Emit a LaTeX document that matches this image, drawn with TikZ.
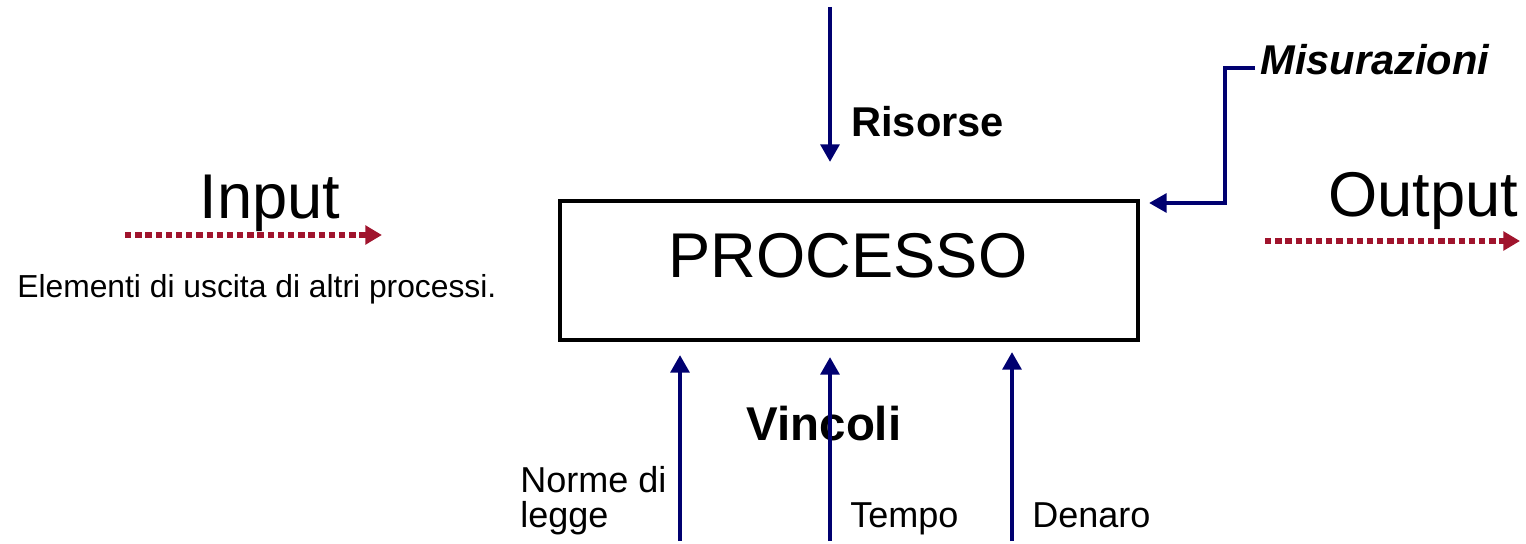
\documentclass[tikz,border=0pt]{standalone}
\usepackage{fontspec}
\setmainfont{Liberation Sans}
\usetikzlibrary{arrows.meta,positioning}
\definecolor{navyline}{RGB}{0,0,112}
\definecolor{redline}{RGB}{160,20,45}

\begin{document}
\begin{tikzpicture}
[x=0.02cm, y=-0.02cm,
every node/.style = {inner sep=0pt, font=\fontsize{20.5}{19.4}\selectfont},
flow/.style = {draw=navyline, line width=2.6pt,
	-{Triangle[length=10pt,width=10.5pt]}},
io/.style = {draw=redline, line width=3.2pt, dash pattern=on 3.6pt off 2.2pt,
	-{Triangle[length=9.5pt,width=10.5pt]}},
big/.style = {font=\fontsize{36}{40}\selectfont},
bold/.style = {font=\fontsize{23.7}{28}\selectfont\bfseries},
]
\useasboundingbox (0,0) rectangle (1526,544);

% testi
\node[big, anchor=base] (input) at (270,218) {Input};
\node[anchor=base west, font=\fontsize{18.1}{22}\selectfont] (altri) at (17,297)
	{Elementi di uscita di altri processi.};
\node[draw, line width=2.4pt, minimum width=11.56cm, minimum height=2.78cm]
	(processo) at (849,270.5) {};
\node[big, anchor=base] (titolo) at (848,277) {PROCESSO};
\node[big, anchor=base west] (output) at (1328,216) {Output};
\node[bold, anchor=base west] (risorse) at (851,137) {Risorse};
\node[font=\fontsize{23.7}{28}\selectfont\bfseries\itshape, anchor=base west]
	(misura) at (1260,75) {Misurazioni};
\node[font=\fontsize{27}{30}\selectfont\bfseries, anchor=base] (vincoli) at (824,440) {Vincoli};
\node[align=left, anchor=base west] (norme) at (520,527) {Norme di\\legge};
\node[anchor=base west] (tempo) at (850,527) {Tempo};
\node[anchor=base west] (denaro) at (1032,527) {Denaro};

% estremi delle frecce
\coordinate (in a) at (125,235);
\coordinate (in b) at (382,235);
\coordinate (out a) at (1265,241);
\coordinate (out b) at (1520,241);
\coordinate (ris a) at (830,7);
\coordinate (ris b) at (830,162);
\coordinate (mis a) at (1255,68);
\coordinate (mis b) at (1149,203);
\coordinate (leg a) at (680,541);
\coordinate (leg b) at (680,355);
\coordinate (tem a) at (830,541);
\coordinate (tem b) at (830,357);
\coordinate (den a) at (1012,541);
\coordinate (den b) at (1012,352);

\draw[io] (in a) -- (in b);
\draw[io] (out a) -- (out b);
\draw[flow] (ris a) -- (ris b);
\draw[flow] (mis a) -- (1225,68) |- (mis b);
\draw[flow] (leg a) -- (leg b);
\draw[flow] (tem a) -- (tem b);
\draw[flow] (den a) -- (den b);

\end{tikzpicture}
\end{document}
